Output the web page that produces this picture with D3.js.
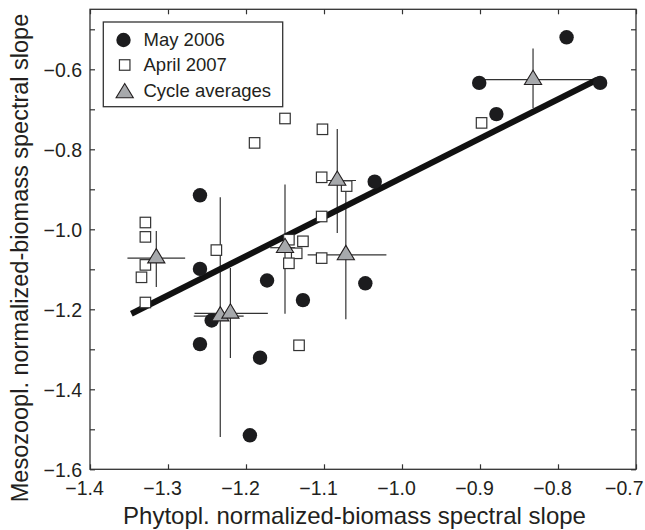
<!DOCTYPE html>
<html>
<head>
<meta charset="utf-8">
<script src="https://cdn.jsdelivr.net/npm/d3@7"></script>
<style>
  html, body { margin: 0; padding: 0; background: #fff; }
  svg { display: block; font-family: "Liberation Sans", Arial, Helvetica, sans-serif; }
</style>
</head>
<body>
<svg id="chart" width="645" height="530"></svg>
<script>
// ---- data ----
const may2006X = [-0.789, -0.901, -0.746, -0.879, -1.035, -1.259, -1.259, -1.173, -1.047, -1.127, -1.244, -1.259, -1.182, -1.195];
const may2006Y = [-0.520, -0.634, -0.634, -0.712, -0.881, -0.915, -1.099, -1.128, -1.135, -1.177, -1.228, -1.287, -1.321, -1.515];

const apr2007X = [-0.898, -1.150, -1.102, -1.189, -1.103, -1.071, -1.103, -1.329, -1.329, -1.238, -1.145, -1.127, -1.135, -1.145, -1.103, -1.329, -1.334, -1.329, -1.132];
const apr2007Y = [-0.734, -0.723, -0.750, -0.784, -0.870, -0.892, -0.968, -0.983, -1.019, -1.052, -1.026, -1.030, -1.060, -1.085, -1.072, -1.089, -1.120, -1.183, -1.290];

const avgX   = [-0.832, -1.083, -1.072, -1.150, -1.315, -1.233, -1.220];
const avgY   = [-0.626, -0.878, -1.064, -1.046, -1.072, -1.217, -1.210];
const avgXLo = [-0.903, -1.108, -1.121, -1.169, -1.352, -1.267, -1.266];
const avgXHi = [-0.748, -1.059, -1.020, -1.137, -1.278, -1.203, -1.172];
const avgYLo = [-0.697, -1.009, -1.225, -1.211, -1.144, -1.519, -1.322];
const avgYHi = [-0.548, -0.749, -0.895, -0.888, -1.004, -0.920, -1.097];

const fitX = [-1.347, -0.750];
const fitY = [-1.211, -0.626];

const xTicks = [-1.4, -1.3, -1.2, -1.1, -1.0, -0.9, -0.8, -0.7];
const yTicks = [-1.6, -1.5, -1.4, -1.3, -1.2, -1.1, -1.0, -0.9, -0.8, -0.7, -0.6, -0.5];
const yTickLabels = [-1.6, -1.4, -1.2, -1.0, -0.8, -0.6];

const legendLabels = ["May 2006", "April 2007", "Cycle averages"];
const xTitle = "Phytopl. normalized-biomass spectral slope";
const yTitle = "Mesozoopl. normalized-biomass spectral slope";

// ---- layout ----
const L = 90, R = 636, T = 9.3, B = 469.3;
const ink = "#231f20", gridInk = "#333333";
const svg = d3.select("#chart");

const x = d3.scaleLinear().domain([-1.4, -0.7]).range([L, R]);
const y = d3.scaleLinear().domain([-1.6, -0.45]).range([B, T]);
const fmt = d3.format(".1f");
const tickFont = 19.5;

// axes (inward ticks on all sides)
const gx = svg.append("g").attr("transform", `translate(0,${B})`)
  .call(d3.axisBottom(x).tickValues(xTicks).tickSize(-5).tickPadding(12).tickFormat(fmt));
const gxt = svg.append("g").attr("transform", `translate(0,${T})`)
  .call(d3.axisTop(x).tickValues(xTicks).tickSize(-5).tickFormat(""));
const gy = svg.append("g").attr("transform", `translate(${L},0)`)
  .call(d3.axisLeft(y).tickValues(yTicks).tickSize(-5).tickPadding(8)
    .tickFormat(d => yTickLabels.some(v => Math.abs(v - d) < 1e-9) ? fmt(d) : ""));
const gyr = svg.append("g").attr("transform", `translate(${R},0)`)
  .call(d3.axisRight(y).tickValues(yTicks).tickSize(-5).tickFormat(""));

[gx, gxt, gy, gyr].forEach(g => {
  g.select(".domain").remove();
  g.selectAll(".tick line").attr("stroke", gridInk).attr("stroke-width", 1.2);
  g.selectAll("text").attr("font-family", null).attr("font-size", tickFont).attr("fill", ink);
});
gx.selectAll(".tick text").attr("x", (d, i) => i === xTicks.length - 1 ? 0 : -6)
  .attr("text-anchor", (d, i) => i === xTicks.length - 1 ? "end" : "middle")
  .attr("transform", (d, i) => i === xTicks.length - 1 ? `translate(${643 - x(d)},0)` : null);
gy.selectAll(".tick text").attr("dy", "0.35em");

// frame
svg.append("rect").attr("x", L).attr("y", T).attr("width", R - L).attr("height", B - T)
  .attr("fill", "none").attr("stroke", gridInk).attr("stroke-width", 1.3);

// error bars
const eb = svg.append("g").attr("stroke", gridInk).attr("stroke-width", 1.2);
avgX.forEach((vx, i) => {
  eb.append("line").attr("x1", x(avgXLo[i])).attr("x2", x(avgXHi[i])).attr("y1", y(avgY[i])).attr("y2", y(avgY[i]));
  eb.append("line").attr("x1", x(vx)).attr("x2", x(vx)).attr("y1", y(avgYLo[i])).attr("y2", y(avgYHi[i]));
});

// regression line
svg.append("line").attr("x1", x(fitX[0])).attr("y1", y(fitY[0])).attr("x2", x(fitX[1])).attr("y2", y(fitY[1]))
  .attr("stroke", "#111").attr("stroke-width", 6);

// squares
const sq = 10.5;
svg.append("g").selectAll("rect").data(apr2007X).join("rect")
  .attr("x", d => x(d) - sq / 2).attr("y", (d, i) => y(apr2007Y[i]) - sq / 2)
  .attr("width", sq).attr("height", sq)
  .attr("fill", "#fff").attr("stroke", gridInk).attr("stroke-width", 1.2);

// circles
svg.append("g").selectAll("circle").data(may2006X).join("circle")
  .attr("cx", d => x(d)).attr("cy", (d, i) => y(may2006Y[i])).attr("r", 7.2)
  .attr("fill", "#1c1c1e");

// triangles
const tri = "M0,-9.5L8.6,4.8L-8.6,4.8Z";
svg.append("g").selectAll("path").data(avgX).join("path")
  .attr("transform", (d, i) => `translate(${x(d)},${y(avgY[i])})`)
  .attr("d", tri).attr("fill", "#a7a9ac").attr("stroke", ink).attr("stroke-width", 1.1)
  .attr("stroke-linejoin", "miter");

// legend
const lg = svg.append("g");
lg.append("rect").attr("x", 103.3).attr("y", 22).attr("width", 179.4).attr("height", 84.7)
  .attr("fill", "#fff").attr("stroke", gridInk).attr("stroke-width", 1.3);
lg.append("circle").attr("cx", 123.5).attr("cy", 40).attr("r", 7.2).attr("fill", "#1c1c1e");
lg.append("rect").attr("x", 124.7 - sq / 2).attr("y", 65 - sq / 2).attr("width", sq).attr("height", sq)
  .attr("fill", "#fff").attr("stroke", gridInk).attr("stroke-width", 1.2);
lg.append("path").attr("transform", "translate(124.7,93)").attr("d", tri)
  .attr("fill", "#a7a9ac").attr("stroke", ink).attr("stroke-width", 1.1);
lg.selectAll("text").data(legendLabels).join("text")
  .attr("x", 143.5).attr("y", (d, i) => 45.5 + i * 25.8)
  .attr("font-size", 18.5).attr("fill", ink).text(d => d);

// axis titles
svg.append("text").attr("x", (121 + 588) / 2).attr("y", 524).attr("text-anchor", "middle")
  .attr("font-size", 24).attr("fill", ink).text(xTitle);
svg.append("text").attr("transform", "translate(28,258) rotate(-90)").attr("text-anchor", "middle")
  .attr("font-size", 23.5).attr("fill", ink).text(yTitle);
</script>
</body>
</html>
